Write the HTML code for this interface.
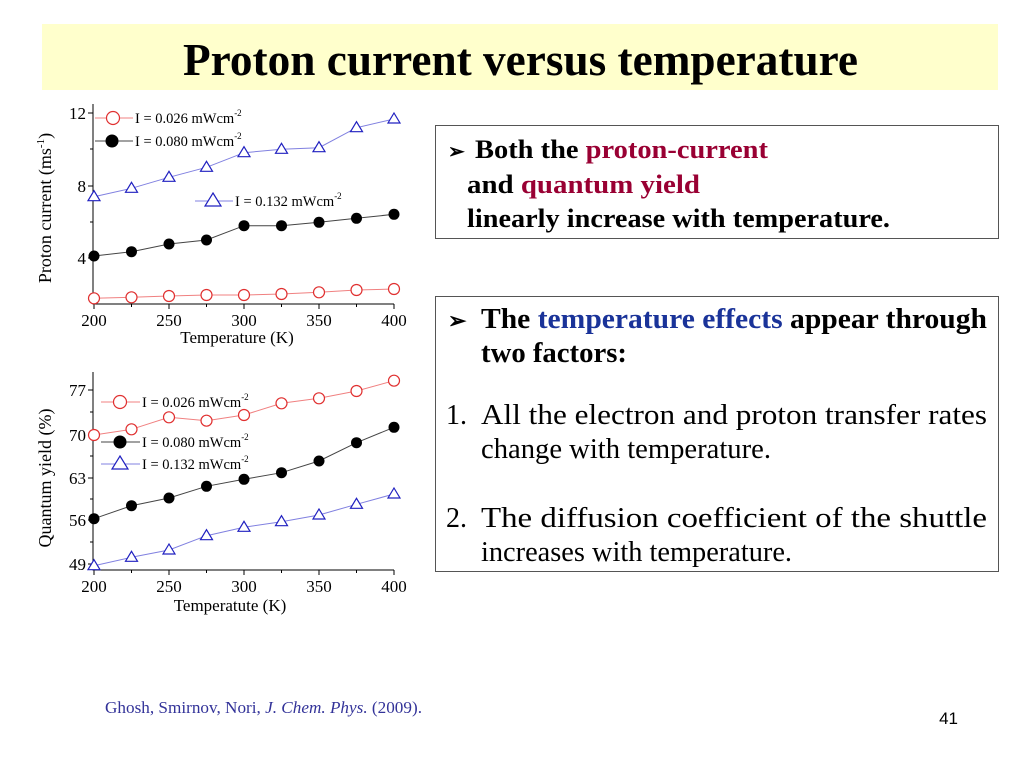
<!DOCTYPE html>
<html><head><meta charset="utf-8"><style>
html,body{margin:0;padding:0;background:#fff;}
svg{display:block;}
</style></head><body>
<svg width="1024" height="768" viewBox="0 0 1024 768" xmlns="http://www.w3.org/2000/svg" font-family="Liberation Serif, serif">
<rect x="42" y="24" width="956" height="66" fill="#ffffcc"/>
<text x="183" y="75" font-size="45" font-weight="bold" textLength="675" lengthAdjust="spacingAndGlyphs">Proton current versus temperature</text>

<!-- Top chart -->
<g stroke="#000" stroke-width="1" fill="none">
<path d="M93 104 V304 H394"/>
<path d="M88 113 H93 M88 186 H93 M88 258 H93 M90 149 H93 M90 222 H93 M90 294 H93"/>
<path d="M94 304 V309 M169 304 V309 M244 304 V309 M319 304 V309 M394 304 V309 M131.5 304 V307 M206.5 304 V307 M281.5 304 V307 M356.5 304 V307"/>
</g>
<g font-size="17" text-anchor="end">
<text x="86" y="119">12</text><text x="86" y="192">8</text><text x="86" y="264">4</text>
</g>
<g font-size="17" text-anchor="middle">
<text x="94" y="326">200</text><text x="169" y="326">250</text><text x="244" y="326">300</text><text x="319" y="326">350</text><text x="394" y="326">400</text>
<text x="237" y="343">Temperature (K)</text>
</g>
<text transform="translate(51 208) rotate(-90)" font-size="18" text-anchor="middle">Proton current (ms<tspan font-size="11" dy="-7">-1</tspan><tspan dy="7">)</tspan></text>

<polyline fill="none" stroke="#8080e0" stroke-width="1" points="94,196.7 131.5,188.3 169,177.3 206.5,167.3 244,152.7 281.5,149.3 319,147.7 356.5,127.7 394,119"/>
<polyline fill="none" stroke="#444" stroke-width="1" points="94,256 131.5,251.7 169,244 206.5,240 244,225.7 281.5,225.7 319,222.3 356.5,218.3 394,214.3"/>
<polyline fill="none" stroke="#f08080" stroke-width="1" points="94,298.3 131.5,297.3 169,296 206.5,295 244,295 281.5,294 319,292.3 356.5,290 394,289"/>
<g fill="#fff" stroke="#2020c0" stroke-width="1.2">
<path d="M94 190.7 l6 10 h-12z"/><path d="M131.5 182.3 l6 10 h-12z"/><path d="M169 171.3 l6 10 h-12z"/><path d="M206.5 161.3 l6 10 h-12z"/><path d="M244 146.7 l6 10 h-12z"/><path d="M281.5 143.3 l6 10 h-12z"/><path d="M319 141.7 l6 10 h-12z"/><path d="M356.5 121.7 l6 10 h-12z"/><path d="M394 113 l6 10 h-12z"/>
</g>
<g fill="#000">
<circle cx="94" cy="256" r="5.5"/><circle cx="131.5" cy="251.7" r="5.5"/><circle cx="169" cy="244" r="5.5"/><circle cx="206.5" cy="240" r="5.5"/><circle cx="244" cy="225.7" r="5.5"/><circle cx="281.5" cy="225.7" r="5.5"/><circle cx="319" cy="222.3" r="5.5"/><circle cx="356.5" cy="218.3" r="5.5"/><circle cx="394" cy="214.3" r="5.5"/>
</g>
<g fill="#fff" stroke="#e03030" stroke-width="1.2">
<circle cx="94" cy="298.3" r="5.5"/><circle cx="131.5" cy="297.3" r="5.5"/><circle cx="169" cy="296" r="5.5"/><circle cx="206.5" cy="295" r="5.5"/><circle cx="244" cy="295" r="5.5"/><circle cx="281.5" cy="294" r="5.5"/><circle cx="319" cy="292.3" r="5.5"/><circle cx="356.5" cy="290" r="5.5"/><circle cx="394" cy="289" r="5.5"/>
</g>
<!-- top legend -->
<line x1="95" y1="118" x2="133" y2="118" stroke="#f08080"/>
<circle cx="113" cy="118" r="6.5" fill="#fff" stroke="#e03030" stroke-width="1.2"/>
<line x1="95" y1="141" x2="133" y2="141" stroke="#444"/>
<circle cx="112" cy="141" r="6.5" fill="#000"/>
<line x1="195" y1="201" x2="233" y2="201" stroke="#8080e0"/>
<path d="M213 193 l8 13 h-16z" fill="#fff" stroke="#2020c0" stroke-width="1.2"/>
<g font-size="14.5">
<text x="135" y="123">I = 0.026 mWcm<tspan font-size="9" dy="-7">-2</tspan></text>
<text x="135" y="146">I = 0.080 mWcm<tspan font-size="9" dy="-7">-2</tspan></text>
<text x="235" y="206">I = 0.132 mWcm<tspan font-size="9" dy="-7">-2</tspan></text>
</g>

<!-- Bottom chart -->
<g stroke="#000" stroke-width="1" fill="none">
<path d="M93 372 V570 H394"/>
<path d="M88 390 H93 M88 435 H93 M88 478 H93 M88 520 H93 M88 564 H93 M90 412 H93 M90 456 H93 M90 499 H93 M90 542 H93"/>
<path d="M94 570 V575 M169 570 V575 M244 570 V575 M319 570 V575 M394 570 V575 M131.5 570 V573 M206.5 570 V573 M281.5 570 V573 M356.5 570 V573"/>
</g>
<g font-size="17" text-anchor="end">
<text x="86" y="396">77</text><text x="86" y="441">70</text><text x="86" y="484">63</text><text x="86" y="526">56</text><text x="86" y="570">49</text>
</g>
<g font-size="17" text-anchor="middle">
<text x="94" y="592">200</text><text x="169" y="592">250</text><text x="244" y="592">300</text><text x="319" y="592">350</text><text x="394" y="592">400</text>
<text x="230" y="611">Temperatute (K)</text>
</g>
<text transform="translate(51 478) rotate(-90)" font-size="18" text-anchor="middle">Quantum yield (%)</text>

<polyline fill="none" stroke="#f08080" stroke-width="1" points="94,435 131.5,429.3 169,417.3 206.5,420.7 244,415 281.5,403.3 319,398.3 356.5,391 394,380.7"/>
<polyline fill="none" stroke="#444" stroke-width="1" points="94,518.7 131.5,505.7 169,498 206.5,486.3 244,479.3 281.5,472.7 319,461 356.5,442.7 394,427.3"/>
<polyline fill="none" stroke="#8080e0" stroke-width="1" points="94,565.7 131.5,557.3 169,550 206.5,535.7 244,527.3 281.5,521.7 319,515 356.5,504.3 394,494"/>
<g fill="#fff" stroke="#e03030" stroke-width="1.2">
<circle cx="94" cy="435" r="5.5"/><circle cx="131.5" cy="429.3" r="5.5"/><circle cx="169" cy="417.3" r="5.5"/><circle cx="206.5" cy="420.7" r="5.5"/><circle cx="244" cy="415" r="5.5"/><circle cx="281.5" cy="403.3" r="5.5"/><circle cx="319" cy="398.3" r="5.5"/><circle cx="356.5" cy="391" r="5.5"/><circle cx="394" cy="380.7" r="5.5"/>
</g>
<g fill="#000">
<circle cx="94" cy="518.7" r="5.5"/><circle cx="131.5" cy="505.7" r="5.5"/><circle cx="169" cy="498" r="5.5"/><circle cx="206.5" cy="486.3" r="5.5"/><circle cx="244" cy="479.3" r="5.5"/><circle cx="281.5" cy="472.7" r="5.5"/><circle cx="319" cy="461" r="5.5"/><circle cx="356.5" cy="442.7" r="5.5"/><circle cx="394" cy="427.3" r="5.5"/>
</g>
<g fill="#fff" stroke="#2020c0" stroke-width="1.2">
<path d="M94 559.7 l6 10 h-12z"/><path d="M131.5 551.3 l6 10 h-12z"/><path d="M169 544 l6 10 h-12z"/><path d="M206.5 529.7 l6 10 h-12z"/><path d="M244 521.3 l6 10 h-12z"/><path d="M281.5 515.7 l6 10 h-12z"/><path d="M319 509 l6 10 h-12z"/><path d="M356.5 498.3 l6 10 h-12z"/><path d="M394 488 l6 10 h-12z"/>
</g>
<!-- bottom legend -->
<line x1="101" y1="402" x2="140" y2="402" stroke="#f08080"/>
<circle cx="120" cy="402" r="6.5" fill="#fff" stroke="#e03030" stroke-width="1.2"/>
<line x1="101" y1="442" x2="140" y2="442" stroke="#444"/>
<circle cx="120" cy="442" r="6.5" fill="#000"/>
<line x1="101" y1="464" x2="140" y2="464" stroke="#8080e0"/>
<path d="M120 456 l8 13 h-16z" fill="#fff" stroke="#2020c0" stroke-width="1.2"/>
<g font-size="14.5">
<text x="142" y="407">I = 0.026 mWcm<tspan font-size="9" dy="-7">-2</tspan></text>
<text x="142" y="447">I = 0.080 mWcm<tspan font-size="9" dy="-7">-2</tspan></text>
<text x="142" y="469">I = 0.132 mWcm<tspan font-size="9" dy="-7">-2</tspan></text>
</g>

<!-- Text boxes -->
<rect x="435.5" y="125.5" width="563" height="113" fill="#fff" stroke="#555" stroke-width="1"/>
<g font-size="26" font-weight="bold">
<text x="448" y="158" font-size="20">➢</text>
<text x="475" y="158" textLength="293" lengthAdjust="spacingAndGlyphs">Both the <tspan fill="#990033">proton-current</tspan></text>
<text x="467" y="193" textLength="233" lengthAdjust="spacingAndGlyphs">and <tspan fill="#990033">quantum yield</tspan></text>
<text x="467" y="227" textLength="423" lengthAdjust="spacingAndGlyphs">linearly increase with temperature.</text>
</g>
<rect x="435.5" y="296.5" width="563" height="275" fill="#fff" stroke="#555" stroke-width="1"/>
<g font-size="28">
<text x="448" y="328" font-weight="bold" font-size="22">➢</text>
<text x="481" y="328" font-weight="bold" textLength="506" lengthAdjust="spacingAndGlyphs">The <tspan fill="#1a3399">temperature effects</tspan> appear through</text>
<text x="481" y="362" font-weight="bold" textLength="146" lengthAdjust="spacingAndGlyphs">two factors:</text>
<text x="446" y="424">1.</text>
<text x="481" y="424" textLength="506" lengthAdjust="spacingAndGlyphs">All the electron and proton transfer rates</text>
<text x="481" y="458" textLength="290" lengthAdjust="spacingAndGlyphs">change with temperature.</text>
<text x="446" y="527">2.</text>
<text x="481" y="527" textLength="506" lengthAdjust="spacingAndGlyphs">The diffusion coefficient of the shuttle</text>
<text x="481" y="561" textLength="311" lengthAdjust="spacingAndGlyphs">increases with temperature.</text>
</g>

<text x="105" y="713" font-size="17" fill="#333399" textLength="317" lengthAdjust="spacingAndGlyphs">Ghosh, Smirnov, Nori,  <tspan font-style="italic">J. Chem. Phys.</tspan> (2009).</text>
<text x="958" y="724" font-size="17" font-family="Liberation Sans, sans-serif" text-anchor="end">41</text>
</svg>
</body></html>
